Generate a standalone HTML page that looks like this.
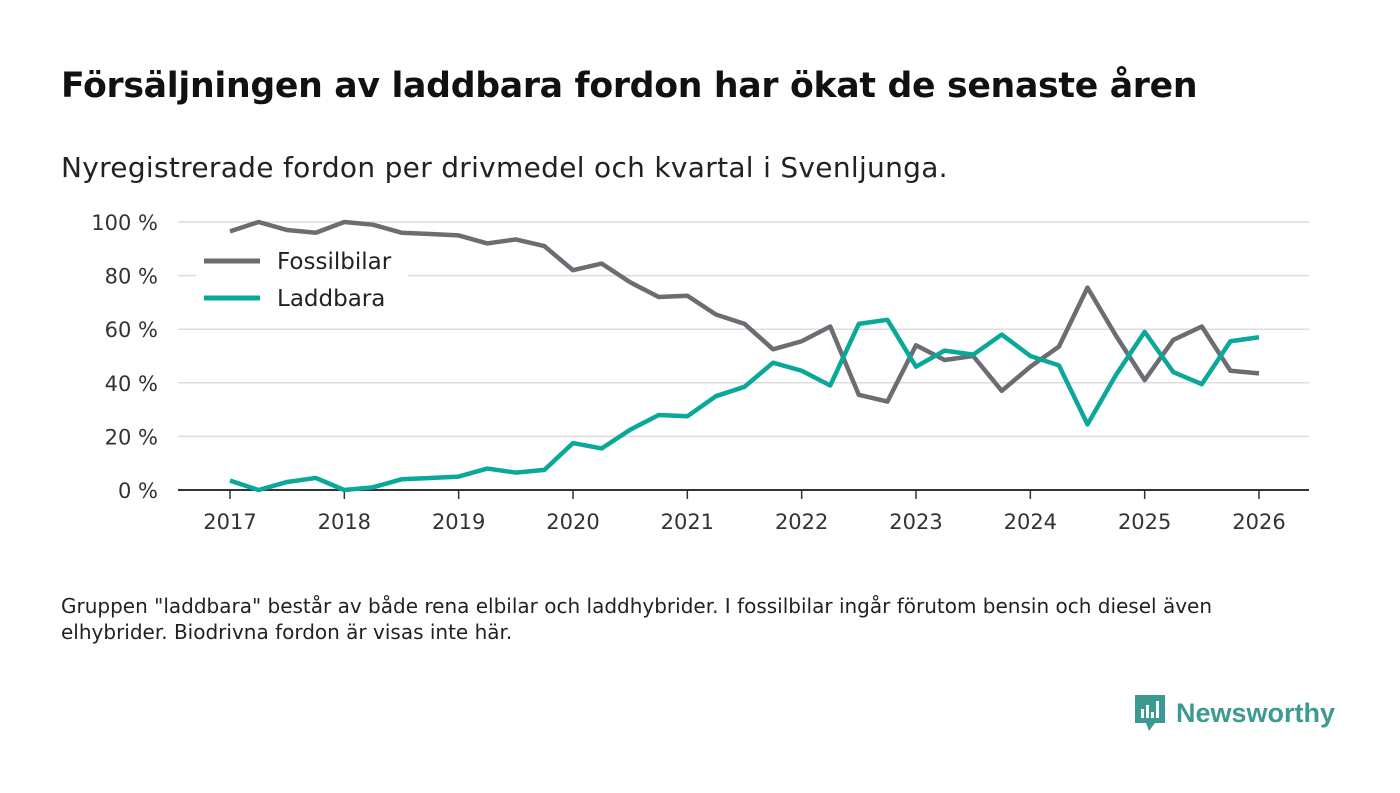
<!DOCTYPE html>
<html><head><meta charset="utf-8"><style>
body{margin:0;background:#fff;width:1400px;height:793px;overflow:hidden;font-family:"DejaVu Sans","Liberation Sans",sans-serif;}
h1{position:absolute;left:61px;top:66px;margin:0;font-size:34.7px;font-weight:bold;color:#111;font-family:"DejaVu Sans","Liberation Sans",sans-serif;letter-spacing:-0.3px}
.sub{position:absolute;left:61px;top:151px;font-size:28px;color:#222;font-family:"DejaVu Sans","Liberation Sans",sans-serif;letter-spacing:0.3px}
.note{position:absolute;left:61px;top:593px;font-size:20px;color:#222;line-height:26px;width:1215px;font-family:"DejaVu Sans","Liberation Sans",sans-serif;letter-spacing:0px}
svg{position:absolute;left:0;top:0}
</style></head><body>
<h1>Försäljningen av laddbara fordon har ökat de senaste åren</h1>
<div class="sub">Nyregistrerade fordon per drivmedel och kvartal i Svenljunga.</div>
<svg id="chart" width="1400" height="793"></svg>
<div class="note">Gruppen "laddbara" består av både rena elbilar och laddhybrider. I fossilbilar ingår förutom bensin och diesel även elhybrider. Biodrivna fordon är visas inte här.</div>
<div style="position:absolute;left:1133px;top:693px;display:flex;align-items:center;">
<svg width="34" height="40" style="position:static"><path d="M2 2h30v28H22l-6 8-3-8H2z" fill="#3d9a92"/><rect x="8" y="16" width="3" height="9" fill="#fff"/><rect x="13" y="12" width="3" height="13" fill="#fff"/><rect x="18" y="19" width="3" height="6" fill="#fff"/><rect x="23" y="8" width="3" height="17" fill="#fff"/></svg>
<span style="font-size:27px;font-weight:bold;color:#3d9a92;margin-left:9px;font-family:'Liberation Sans',sans-serif">Newsworthy</span></div>
<script>
const years=[2017,2018,2019,2020,2021,2022,2023,2024,2025,2026];
const yTicks=[0,20,40,60,80,100];
const fossil=[96.5,100,97,96,100,99,96,95.5,95,92,93.5,91,82,84.5,77.5,72,72.5,65.5,62,52.5,55.5,61,35.5,33,54,48.5,50,37,46,53.5,75.5,57.5,41,56,61,44.5,43.5];
const laddbara=[3.5,0,3,4.5,0,1,4,4.5,5,8,6.5,7.5,17.5,15.5,22.5,28,27.5,35,38.5,47.5,44.5,39,62,63.5,46,52,50.5,58,50,46.5,24.5,43,59,44,39.5,55.5,57];
const svg=document.getElementById('chart');const NS='http://www.w3.org/2000/svg';
const X=t=>230+(t-2017)*(1259-230)/9;
const Y=v=>490-v*(490-222)/100;
function mk(tag,a){const e=document.createElementNS(NS,tag);for(const k in a)e.setAttribute(k,a[k]);svg.appendChild(e);return e;}
yTicks.forEach(v=>{
 if(v>0){const g=mk('line',{x1:178,x2:1309,y1:Y(v),y2:Y(v),stroke:'#dcdcdc','stroke-width':1.5});
 
 }
 const t=mk('text',{x:158,y:Y(v)+8,'text-anchor':'end','font-size':21,fill:'#333','font-family':'DejaVu Sans,Liberation Sans,sans-serif'});t.textContent=v+' %';
 
 
});
const ax=mk('line',{x1:178,x2:1309,y1:490,y2:490,stroke:'#333','stroke-width':2});


years.forEach(yr=>{
 const tk=mk('line',{x1:X(yr),x2:X(yr),y1:490,y2:499,stroke:'#333','stroke-width':1.5});
 
 
 const t=mk('text',{x:X(yr),y:529,'text-anchor':'middle','font-size':21,fill:'#333','font-family':'DejaVu Sans,Liberation Sans,sans-serif'});t.textContent=yr;
 
 
});
function line(d,c,n){const p=mk('polyline',{points:d.map((v,i)=>X(2017+i/4)+','+Y(v)).join(' '),fill:'none',stroke:c,'stroke-width':4.5,'stroke-linejoin':'round'});
 
 }
line(fossil,'#6e6c73','fossilbilar-line');
line(laddbara,'#0aa89a','laddbara-line');
const bg=mk('rect',{x:196,y:243,width:212,height:76,fill:'#fff'});


[['Fossilbilar','#6e6c73',261],['Laddbara','#0aa89a',298]].forEach(([n,c,y])=>{
 const l=mk('line',{x1:204,x2:260,y1:y,y2:y,stroke:c,'stroke-width':5});
 
 
 const t=mk('text',{x:277,y:y+8,'font-size':23,fill:'#222','font-family':'DejaVu Sans,Liberation Sans,sans-serif'});t.textContent=n;
 
 
});
</script>
</body></html>
